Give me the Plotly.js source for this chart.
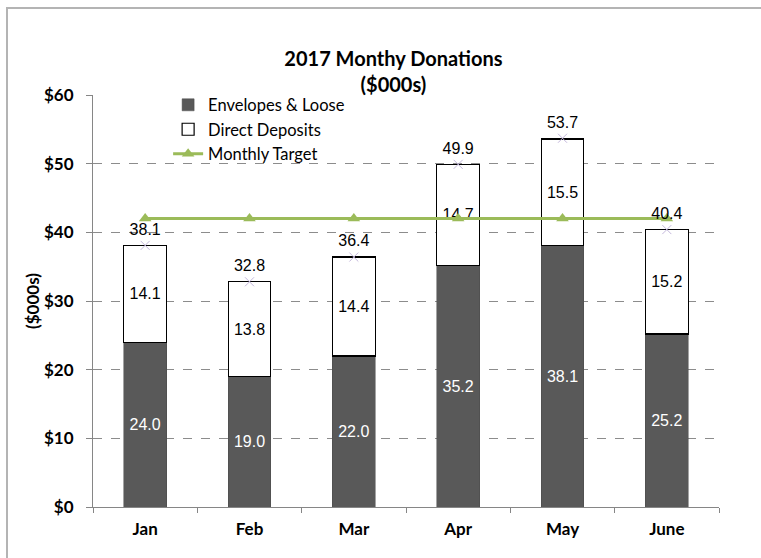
<!DOCTYPE html>
<html>
<head>
<meta charset="utf-8">
<script src="https://cdn.plot.ly/plotly-3.0.1.min.js"></script>
<style>
  html, body { margin: 0; padding: 0; background: #ffffff; overflow: hidden; width: 761px; height: 558px; }
  #frameTop { position: absolute; left: 6px; top: 7px; width: 755px; height: 2px; background: #b4b4b4; }
  #frameLeft { position: absolute; left: 6px; top: 7px; width: 2px; height: 551px; background: #b4b4b4; }
  #chart { position: absolute; left: 0; top: 0; width: 761px; height: 558px; }
</style>
</head>
<body>
<div id="chart"></div>
<div id="frameTop"></div>
<div id="frameLeft"></div>
<script>
const months = ['Jan', 'Feb', 'Mar', 'Apr', 'May', 'June'];
const envelopes = [24.0, 19.0, 22.0, 35.2, 38.1, 25.2];
const deposits = [14.1, 13.8, 14.4, 14.7, 15.5, 15.2];
const totals = [38.1, 32.8, 36.4, 49.9, 53.7, 40.4];
const target = [42, 42, 42, 42, 42, 42];
const yTickVals = [0, 10, 20, 30, 40, 50, 60];
const yTickText = ['$0', '$10', '$20', '$30', '$40', '$50', '$60'];

const fmt = v => v.toFixed(1);
const labelFont = { family: 'Liberation Sans, Arial, sans-serif', size: 16 };
const calibri = 'Lato, Carlito, Calibri, sans-serif';

const traces = [
  {
    type: 'bar', name: 'Envelopes & Loose', x: months, y: envelopes,
    marker: { color: '#595959', line: { color: '#4a4a4a', width: 0.5 } },
    text: envelopes.map(fmt), textposition: 'inside', insidetextanchor: 'middle',
    textfont: Object.assign({ color: '#ffffff' }, labelFont),
    hoverinfo: 'skip'
  },
  {
    type: 'bar', name: 'Direct Deposits', x: months, y: deposits,
    marker: { color: '#ffffff', line: { color: '#000000', width: 1.2 } },
    text: deposits.map(fmt), textposition: 'inside', insidetextanchor: 'middle',
    textfont: Object.assign({ color: '#000000' }, labelFont),
    hoverinfo: 'skip'
  },
  {
    type: 'scatter', mode: 'lines+markers', name: 'Monthly Target', x: months, y: target,
    line: { color: '#9bbb59', width: 3 },
    marker: { symbol: 'triangle-up', size: 11, color: '#9bbb59' },
    hoverinfo: 'skip'
  },
  {
    type: 'scatter', mode: 'markers+text', name: 'Total', x: months, y: totals,
    showlegend: false,
    marker: { symbol: 'x-thin', size: 9, color: '#c4b8dc', line: { color: '#c4b8dc', width: 1 } },
    text: totals.map(fmt), textposition: 'top center',
    textfont: Object.assign({ color: '#000000' }, labelFont),
    hoverinfo: 'skip'
  }
];

const layout = {
  width: 761, height: 558,
  paper_bgcolor: 'rgba(0,0,0,0)', plot_bgcolor: 'rgba(0,0,0,0)',
  margin: { l: 93, r: 42, t: 95, b: 51 },
  barmode: 'stack', bargap: 0.59,
  title: {
    text: '<b>2017 Monthy Donations<br>($000s)</b>',
    font: { family: calibri, size: 20, color: '#000000' },
    xref: 'container', x: 0.517, xanchor: 'center',
    yref: 'container', y: 0.882, yanchor: 'top'
  },
  xaxis: {
    type: 'category', tickson: 'boundaries', ticks: 'outside', ticklen: 5,
    tickcolor: '#868686', showline: true, linecolor: '#868686', linewidth: 1,
    showgrid: false, ticklabelstandoff: 7,
    tickfont: { family: calibri, size: 17, color: '#000000', weight: 'bold' }
  },
  yaxis: {
    range: [0, 60], tickvals: yTickVals, ticktext: yTickText,
    ticks: 'outside', ticklen: 6, tickcolor: '#868686',
    showline: true, linecolor: '#868686', linewidth: 1,
    showgrid: true, gridcolor: '#8c8c8c', griddash: 'dash', gridwidth: 1,
    zeroline: false, ticklabelstandoff: 9,
    tickfont: { family: calibri, size: 17, color: '#000000', weight: 'bold' },
    title: { text: '<b>($000s)</b>', font: { family: calibri, size: 17, color: '#000000', weight: 'bold' }, standoff: 0 }
  },
  legend: {
    x: 0.12, xanchor: 'left', y: 1.018, yanchor: 'top',
    traceorder: 'normal', bgcolor: 'rgba(0,0,0,0)',
    font: { family: calibri, size: 16.5, color: '#000000' }
  },
  showlegend: true
};

Plotly.newPlot('chart', traces, layout, { displayModeBar: false, staticPlot: true });
</script>
</body>
</html>
